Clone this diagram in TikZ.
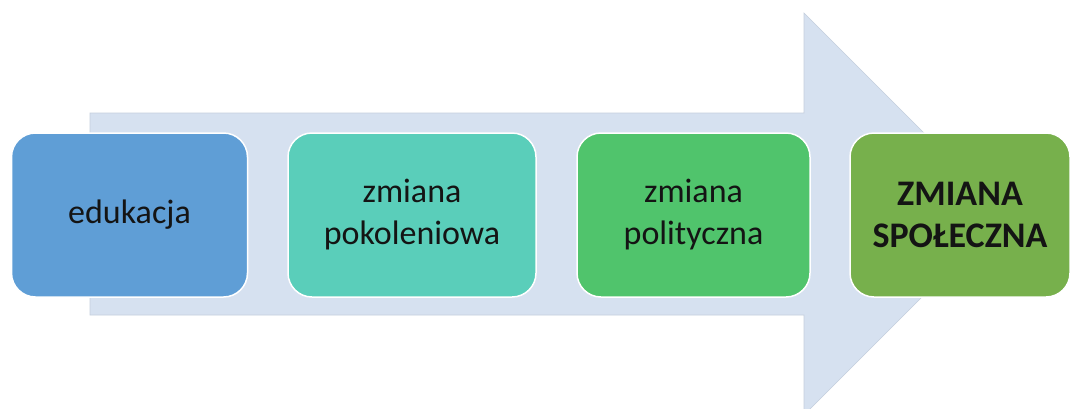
\documentclass[tikz,border=0pt]{standalone}
\usepackage{fontspec}
\setmainfont{Carlito}
\definecolor{arrowfill}{HTML}{D6E1F0}
\definecolor{arrowedge}{HTML}{C5CFDD}
\definecolor{cA}{HTML}{5F9ED6}
\definecolor{cB}{HTML}{5ACEBA}
\definecolor{cC}{HTML}{50C46C}
\definecolor{cD}{HTML}{77B04C}
\tikzset{
  stagebox/.style={rounded corners=24pt, draw=white, line width=1.5pt, minimum width=236pt, minimum height=164pt, align=center, inner sep=0pt, font=\fontsize{34}{42}\selectfont, text=black!92},
}
\begin{document}
\begin{tikzpicture}[x=1pt,y=-1pt]
\useasboundingbox (0,0) rectangle (1072,408);
\fill[white] (0,0) rectangle (1072,408);
\draw[fill=arrowfill, draw=arrowedge, line width=0.6pt]
  (90,113) -- (804,113) -- (804,13) -- (1005,214) -- (804,415) -- (804,315) -- (90,315) -- cycle;
\node[stagebox, fill=cA] (a) at (129.5,215) {edukacja};
\node[stagebox, fill=cB, minimum width=248pt] (b) at (412,215) {zmiana\\pokoleniowa};
\node[stagebox, fill=cC, minimum width=233pt] (c) at (693.5,215) {zmiana\\polityczna};
\node[stagebox, fill=cD, minimum width=220pt, font=\fontsize{36}{42}\selectfont\bfseries] (d) at (960,215) {ZMIANA\\SPOŁECZNA};
\end{tikzpicture}
\end{document}
